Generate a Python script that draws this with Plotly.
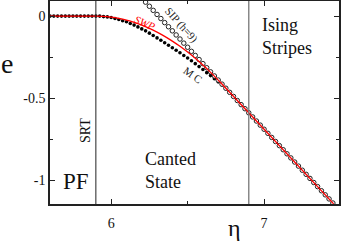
import plotly.graph_objects as go

# --- data ---
mc_eta = [5.600, 5.625, 5.650, 5.675, 5.700, 5.725, 5.750, 5.775, 5.800, 5.825, 5.850, 5.875,
          5.900, 5.925, 5.950, 5.975, 6.000, 6.025, 6.050, 6.075, 6.100, 6.125, 6.150, 6.175,
          6.200, 6.225, 6.250, 6.275, 6.300, 6.325, 6.350, 6.375, 6.400, 6.425, 6.450, 6.475,
          6.500, 6.525, 6.550, 6.575, 6.600, 6.625, 6.650, 6.675, 6.700, 6.725, 6.750, 6.775,
          6.800, 6.825, 6.850, 6.875, 6.900, 6.925, 6.950, 6.975, 7.000, 7.025, 7.050, 7.075,
          7.100, 7.125, 7.150, 7.175, 7.200, 7.225, 7.250, 7.275, 7.300, 7.325, 7.350, 7.375,
          7.400, 7.425, 7.450]
mc_e = [0, 0, 0, 0, 0, 0, 0, 0, 0, 0, 0, 0,
        0, -0.000, -0.003, -0.005, -0.009, -0.015, -0.021, -0.028, -0.035, -0.045, -0.055, -0.066,
        -0.078, -0.090, -0.104, -0.118, -0.133, -0.147, -0.163, -0.178, -0.193, -0.208, -0.224, -0.240,
        -0.256, -0.272, -0.290, -0.308, -0.326, -0.345, -0.363, -0.382, -0.401, -0.420, -0.441, -0.464,
        -0.490, -0.515, -0.540, -0.565, -0.590, -0.615, -0.640, -0.665, -0.690, -0.715, -0.740, -0.765,
        -0.790, -0.815, -0.840, -0.865, -0.890, -0.915, -0.940, -0.965, -0.990, -1.015, -1.040, -1.065,
        -1.090, -1.115, -1.140]

sip_eta = [6.225, 6.250, 6.275, 6.300, 6.325, 6.350, 6.375, 6.400, 6.425, 6.450, 6.475,
           6.500, 6.525, 6.550, 6.575, 6.600, 6.625, 6.650, 6.675, 6.700, 6.725, 6.750, 6.775,
           6.800, 6.825, 6.850, 6.875, 6.900, 6.925, 6.950, 6.975, 7.000, 7.025, 7.050, 7.075,
           7.100, 7.125, 7.150, 7.175, 7.200, 7.225, 7.250, 7.275, 7.300, 7.325, 7.350, 7.375,
           7.400, 7.425, 7.450]
sip_e = [0.085, 0.060, 0.035, 0.010, -0.015, -0.040, -0.065, -0.090, -0.115, -0.140, -0.165,
         -0.190, -0.215, -0.240, -0.265, -0.290, -0.315, -0.340, -0.365, -0.390, -0.415, -0.440, -0.465,
         -0.490, -0.515, -0.540, -0.565, -0.590, -0.615, -0.640, -0.665, -0.690, -0.715, -0.740, -0.765,
         -0.790, -0.815, -0.840, -0.865, -0.890, -0.915, -0.940, -0.965, -0.990, -1.015, -1.040, -1.065,
         -1.090, -1.115, -1.140]

swp_eta = [5.60, 5.90, 5.95, 6.00, 6.05, 6.10, 6.15, 6.20, 6.25, 6.30, 6.35, 6.40, 6.45,
           6.50, 6.55, 6.60, 6.65, 6.70, 6.72, 7.455]
swp_e = [0, 0, -0.0015, -0.0061, -0.0137, -0.0244, -0.0381, -0.0549, -0.0747, -0.0976, -0.1235,
         -0.1525, -0.1845, -0.2196, -0.2577, -0.2989, -0.3431, -0.3904, -0.410, -1.145]

x_ticks = [6, 7]
x_labels = ["6", "7"]
y_ticks = [0, -0.5, -1]
y_labels = ["0", "-0.5", "-1"]
srt_eta = 5.9
ising_eta = 6.9

SERIF = "Liberation Serif"

fig = go.Figure()
fig.add_trace(go.Scatter(x=mc_eta, y=mc_e, mode="markers",
                         marker=dict(symbol="circle", size=3.6, color="black"),
                         showlegend=False, hoverinfo="skip"))
fig.add_trace(go.Scatter(x=sip_eta, y=sip_e, mode="markers",
                         marker=dict(symbol="circle", size=4.5, color="white",
                                     line=dict(color="#222", width=1)),
                         showlegend=False, hoverinfo="skip", cliponaxis=True))
fig.add_trace(go.Scatter(x=swp_eta, y=swp_e, mode="lines",
                         line=dict(color="red", width=1.3, shape="spline", smoothing=0.6),
                         showlegend=False, hoverinfo="skip"))

fig.add_shape(type="line", x0=srt_eta, x1=srt_eta, y0=0, y1=1, xref="x", yref="paper",
              line=dict(color="#222", width=1))
fig.add_shape(type="line", x0=ising_eta, x1=ising_eta, y0=0, y1=1, xref="x", yref="paper",
              line=dict(color="#777", width=1.3))

ann = [
    dict(x=6.222, y=-0.043, text="<i>SWP</i>", textangle=24, font=dict(size=11, color="red")),
    dict(x=6.463, y=-0.055, text="SIP (h=9)", textangle=48, font=dict(size=11, color="#222")),
    dict(x=6.535, y=-0.36, text="M C", textangle=35, font=dict(size=11, color="#222")),
    dict(x=5.837, y=-0.70, text="SRT", textangle=-90, font=dict(size=14, color="#111")),
    dict(x=5.772, y=-1.006, text="PF", font=dict(size=23, color="#111")),
    dict(x=6.205, y=-0.939, text="Canted<br>State", xanchor="left", align="left",
         font=dict(size=18, color="#111")),
    dict(x=6.975, y=-0.122, text="Ising<br>Stripes", xanchor="left", align="left",
         font=dict(size=18, color="#111")),
]
for a in ann:
    a.setdefault("xanchor", "center")
    a["font"]["family"] = SERIF
    fig.add_annotation(xref="x", yref="y", showarrow=False, yanchor="middle", **a)

fig.add_annotation(xref="paper", yref="paper", x=-0.149, y=0.69, text="e", showarrow=False,
                   xanchor="center", yanchor="middle",
                   font=dict(family=SERIF, size=28, color="#111"))
fig.add_annotation(xref="paper", yref="paper", x=0.637, y=-0.118, text="η", showarrow=False,
                   xanchor="center", yanchor="middle",
                   font=dict(family=SERIF, size=24, color="#111"))

fig.update_xaxes(range=[5.6, 7.49], tickvals=x_ticks, ticktext=x_labels, ticks="inside",
                 ticklen=5, tickwidth=1, tickcolor="#222", showline=True, linecolor="#222",
                 linewidth=1.5, mirror="ticks", showgrid=False, zeroline=False, automargin=False,
                 ticklabelstandoff=5,
                 tickfont=dict(family=SERIF, size=14, color="#111"),
                 minor=dict(tickvals=[5.5, 6.5, 7.5], ticks="inside", ticklen=3, tickcolor="#222"))
fig.update_yaxes(range=[-1.146, 0.092], tickvals=y_ticks, ticktext=y_labels, ticks="inside",
                 ticklen=5, tickwidth=1, tickcolor="#222", showline=True, linecolor="#222",
                 linewidth=1.5, mirror="ticks", showgrid=False, zeroline=False, automargin=False,
                 tickfont=dict(family=SERIF, size=14, color="#111"),
                 minor=dict(tickvals=[-0.25, -0.75], ticks="inside", ticklen=3, tickcolor="#222"))

fig.update_layout(width=342, height=242, margin=dict(l=50, r=3, t=1, b=38),
                  plot_bgcolor="white", paper_bgcolor="white")
fig.write_html("out.html", config={"displayModeBar": False},
               post_script="document.body.style.margin='0';document.body.style.padding='0';")
